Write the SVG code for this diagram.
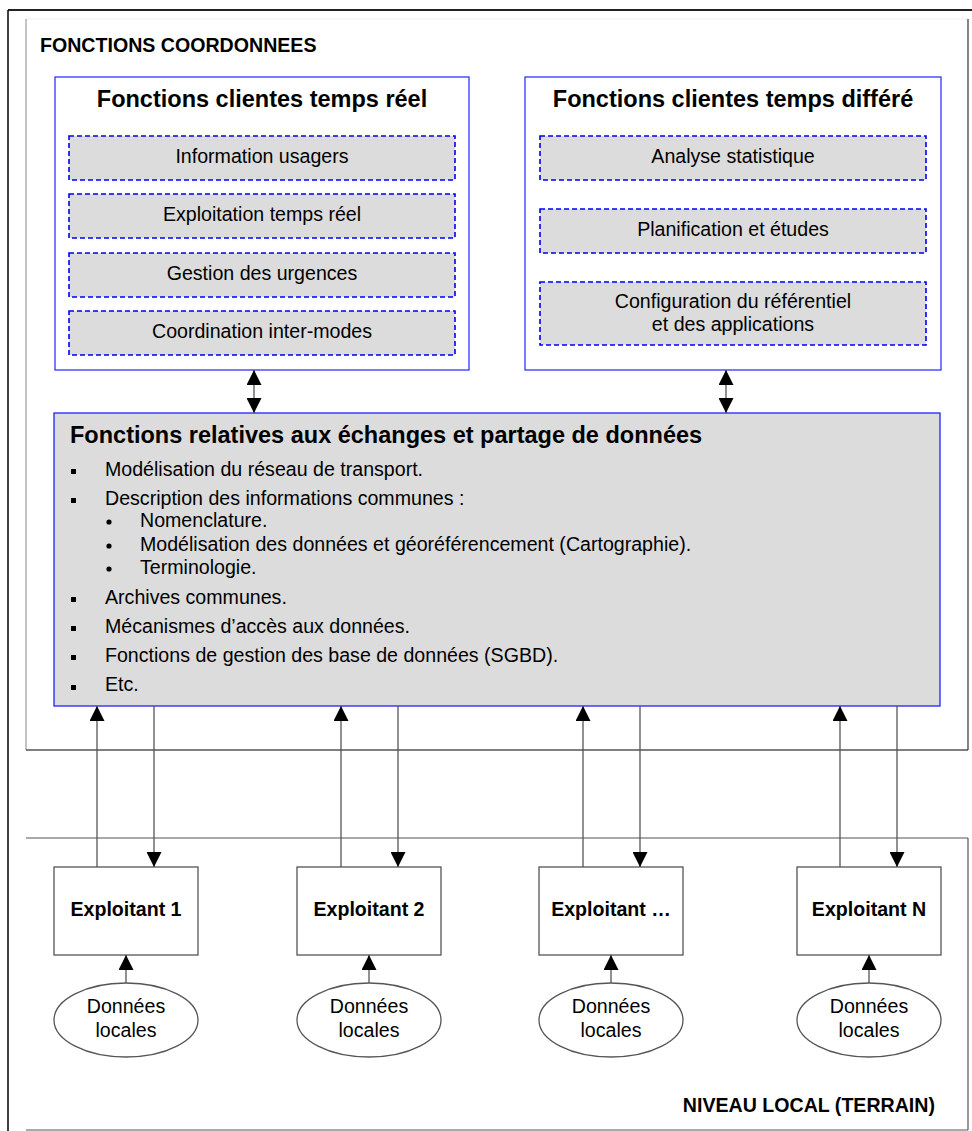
<svg xmlns="http://www.w3.org/2000/svg" width="972" height="1131" viewBox="0 0 972 1131">
  <defs>
    <marker id="ah" viewBox="0 0 10 10" refX="10" refY="5" markerWidth="15" markerHeight="15" markerUnits="userSpaceOnUse" orient="auto-start-reverse">
      <path d="M0,0 L10,5 L0,10 Z" fill="#000"/>
    </marker>
    <style>
      text { font-family: "Liberation Sans", Arial, sans-serif; fill: #000; }
      .panel { fill: #fff; stroke: #3333ff; stroke-width: 1.3; }
      .func { fill: #dcdcdc; stroke: #0000ee; stroke-width: 1.6; stroke-dasharray: 5 3; }
      .shared { fill: #dcdcdc; stroke: #2222ff; stroke-width: 1.3; }
      .op { fill: #fff; stroke: #555; stroke-width: 1.3; }
      .link { fill: none; stroke: #555; stroke-width: 1.3; }
      .heading { font-size: 19.6px; font-weight: bold; }
      .ptitle { font-size: 23.5px; font-weight: bold; text-anchor: middle; }
      .ftxt { font-size: 19.6px; text-anchor: middle; }
      .item { font-size: 19.6px; }
      .optxt { font-size: 19.6px; font-weight: bold; text-anchor: middle; }
      .dtxt { font-size: 19.6px; text-anchor: middle; }
    </style>
  </defs>

  <!-- outer border -->
  <g id="border">
    <line x1="8" y1="10" x2="972" y2="10" stroke="#222" stroke-width="2"/>
    <line x1="8" y1="10" x2="8" y2="1131" stroke="#000" stroke-width="1.5"/>
  </g>

  <!-- coordinated level frame -->
  <g id="coordinated-level">
    <line x1="26" y1="19" x2="968" y2="19" stroke="#eee" stroke-width="1"/>
    <line x1="26" y1="19" x2="26" y2="750" stroke="#888" stroke-width="1"/>
    <line x1="968" y1="19" x2="968" y2="750" stroke="#333" stroke-width="1.2"/>
    <line x1="26" y1="750" x2="968" y2="750" stroke="#000" stroke-width="1.2"/>
    <text class="heading" x="40" y="52">FONCTIONS COORDONNEES</text>
  </g>

  <!-- local level frame -->
  <g id="local-level">
    <line x1="26" y1="838" x2="968" y2="838" stroke="#555" stroke-width="1.2"/>
    <line x1="968" y1="838" x2="968" y2="1130" stroke="#555" stroke-width="1.2"/>
    <line x1="26" y1="1130" x2="968" y2="1130" stroke="#555" stroke-width="1.2"/>
    <text class="heading" x="935" y="1112" text-anchor="end">NIVEAU LOCAL (TERRAIN)</text>
  </g>

  <!-- real-time client functions -->
  <g id="realtime">
    <rect class="panel" x="55" y="77" width="414" height="293"/>
    <text class="ptitle" x="262" y="107">Fonctions clientes temps réel</text>
    <rect class="func" x="69" y="136" width="386" height="44"/>
    <text class="ftxt" x="262" y="163">Information usagers</text>
    <rect class="func" x="69" y="194" width="386" height="44"/>
    <text class="ftxt" x="262" y="221">Exploitation temps réel</text>
    <rect class="func" x="69" y="253" width="386" height="44"/>
    <text class="ftxt" x="262" y="280">Gestion des urgences</text>
    <rect class="func" x="69" y="311" width="386" height="44"/>
    <text class="ftxt" x="262" y="338">Coordination inter-modes</text>
  </g>

  <!-- deferred client functions -->
  <g id="deferred">
    <rect class="panel" x="525" y="77" width="416" height="293"/>
    <text class="ptitle" x="733" y="107">Fonctions clientes temps différé</text>
    <rect class="func" x="540" y="136" width="386" height="44"/>
    <text class="ftxt" x="733" y="163">Analyse statistique</text>
    <rect class="func" x="540" y="209" width="386" height="44"/>
    <text class="ftxt" x="733" y="236">Planification et études</text>
    <rect class="func" x="540" y="282" width="386" height="63"/>
    <text class="ftxt" x="733" y="308">Configuration du référentiel</text>
    <text class="ftxt" x="733" y="331">et des applications</text>
  </g>

  <!-- shared data functions -->
  <g id="shared-data">
    <rect class="shared" x="54" y="413" width="886" height="293"/>
    <text x="70" y="443" font-size="23.5" font-weight="bold">Fonctions relatives aux échanges et partage de données</text>
    <g fill="#000">
      <rect x="71" y="469" width="5" height="5"/>
      <rect x="71" y="498" width="5" height="5"/>
      <rect x="71" y="597" width="5" height="5"/>
      <rect x="71" y="626" width="5" height="5"/>
      <rect x="71" y="655" width="5" height="5"/>
      <rect x="71" y="685" width="5" height="5"/>
      <circle cx="109" cy="522" r="2.6"/>
      <circle cx="109" cy="546" r="2.6"/>
      <circle cx="109" cy="569" r="2.6"/>
    </g>
    <text class="item" x="105" y="476">Modélisation du réseau de transport.</text>
    <text class="item" x="105" y="505">Description des informations communes :</text>
    <text class="item" x="140" y="527">Nomenclature.</text>
    <text class="item" x="140" y="551">Modélisation des données et géoréférencement (Cartographie).</text>
    <text class="item" x="140" y="574">Terminologie.</text>
    <text class="item" x="105" y="604">Archives communes.</text>
    <text class="item" x="105" y="633">Mécanismes d’accès aux données.</text>
    <text class="item" x="105" y="662">Fonctions de gestion des base de données (SGBD).</text>
    <text class="item" x="105" y="691">Etc.</text>
  </g>

  <!-- operators -->
  <g id="exploitant-1">
    <rect class="op" x="54" y="867" width="144" height="88"/>
    <text class="optxt" x="126" y="916">Exploitant 1</text>
  </g>
  <g id="exploitant-2">
    <rect class="op" x="297" y="867" width="144" height="88"/>
    <text class="optxt" x="369" y="916">Exploitant 2</text>
  </g>
  <g id="exploitant-3">
    <rect class="op" x="539" y="867" width="144" height="88"/>
    <text class="optxt" x="611" y="916">Exploitant …</text>
  </g>
  <g id="exploitant-n">
    <rect class="op" x="797" y="867" width="144" height="88"/>
    <text class="optxt" x="869" y="916">Exploitant N</text>
  </g>

  <!-- local data stores -->
  <g id="donnees-1">
    <ellipse class="op" cx="126" cy="1020" rx="72" ry="37"/>
    <text class="dtxt" x="126" y="1013">Données</text>
    <text class="dtxt" x="126" y="1037">locales</text>
  </g>
  <g id="donnees-2">
    <ellipse class="op" cx="369" cy="1020" rx="72" ry="37"/>
    <text class="dtxt" x="369" y="1013">Données</text>
    <text class="dtxt" x="369" y="1037">locales</text>
  </g>
  <g id="donnees-3">
    <ellipse class="op" cx="611" cy="1020" rx="72" ry="37"/>
    <text class="dtxt" x="611" y="1013">Données</text>
    <text class="dtxt" x="611" y="1037">locales</text>
  </g>
  <g id="donnees-n">
    <ellipse class="op" cx="869" cy="1020" rx="72" ry="37"/>
    <text class="dtxt" x="869" y="1013">Données</text>
    <text class="dtxt" x="869" y="1037">locales</text>
  </g>

  <!-- connectors -->
  <g id="connectors">
    <line class="link" stroke="#000" x1="254" y1="370" x2="254" y2="413" marker-start="url(#ah)" marker-end="url(#ah)"/>
    <line class="link" stroke="#000" x1="726" y1="370" x2="726" y2="413" marker-start="url(#ah)" marker-end="url(#ah)"/>

    <line class="link" x1="97" y1="867" x2="97" y2="706" marker-end="url(#ah)"/>
    <line class="link" x1="154" y1="706" x2="154" y2="867" marker-end="url(#ah)"/>
    <line class="link" x1="341" y1="867" x2="341" y2="706" marker-end="url(#ah)"/>
    <line class="link" x1="398" y1="706" x2="398" y2="867" marker-end="url(#ah)"/>
    <line class="link" x1="583" y1="867" x2="583" y2="706" marker-end="url(#ah)"/>
    <line class="link" x1="640" y1="706" x2="640" y2="867" marker-end="url(#ah)"/>
    <line class="link" x1="840" y1="867" x2="840" y2="706" marker-end="url(#ah)"/>
    <line class="link" x1="897" y1="706" x2="897" y2="867" marker-end="url(#ah)"/>

    <line class="link" x1="126" y1="983" x2="126" y2="955" marker-end="url(#ah)"/>
    <line class="link" x1="369" y1="983" x2="369" y2="955" marker-end="url(#ah)"/>
    <line class="link" x1="611" y1="983" x2="611" y2="955" marker-end="url(#ah)"/>
    <line class="link" x1="869" y1="983" x2="869" y2="955" marker-end="url(#ah)"/>
  </g>
</svg>
